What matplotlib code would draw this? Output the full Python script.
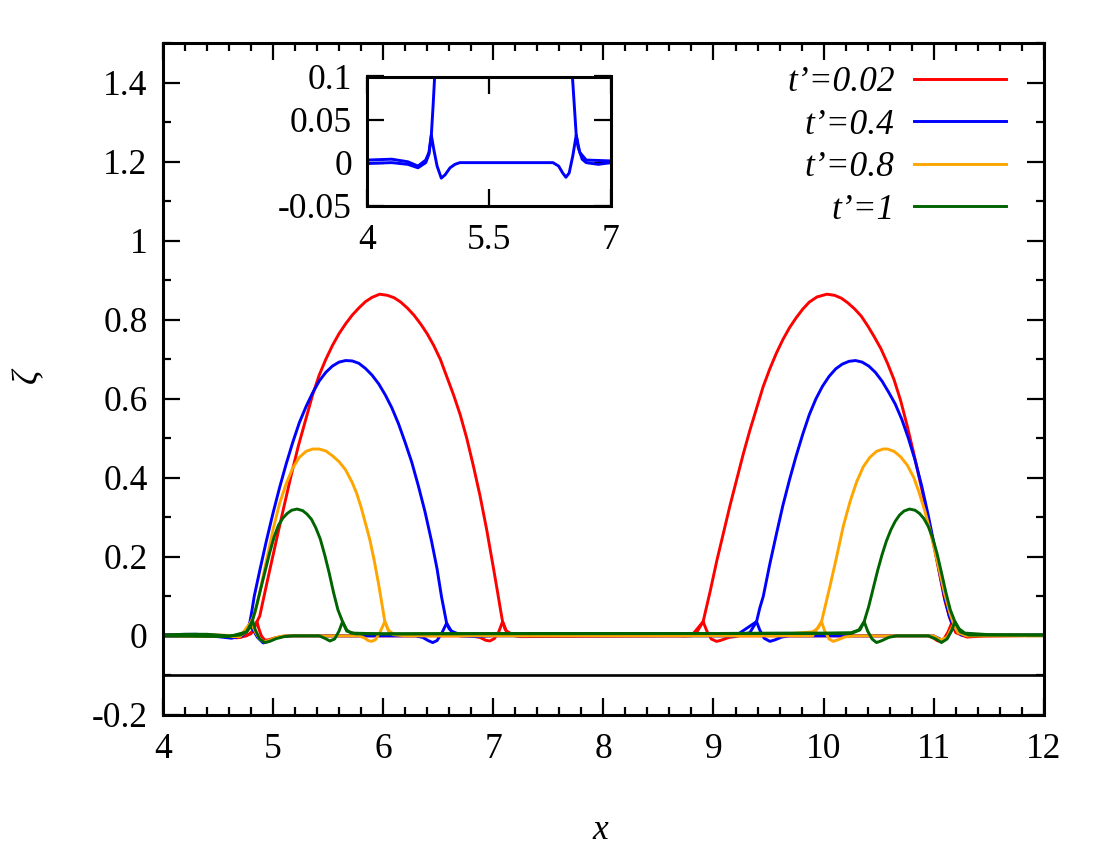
import matplotlib
matplotlib.use('Agg')
import matplotlib.pyplot as plt

plt.rcParams['font.family'] = ['Liberation Serif', 'DejaVu Serif']

# "a" curves carry the humps, "b" curves the baseline ripples under the humps
red_x = [4.0, 4.3, 4.55, 4.67, 4.76, 4.82, 4.855, 4.88, 4.95, 5.02, 5.09, 5.16, 5.23, 5.30, 5.36, 5.42,
         5.48, 5.54, 5.60, 5.66, 5.72, 5.78, 5.84, 5.90, 5.97, 6.04, 6.10, 6.16, 6.22, 6.28, 6.34, 6.40,
         6.46, 6.52, 6.58, 6.64, 6.70, 6.76, 6.82, 6.88, 6.94, 7.0, 7.04, 7.07, 7.085, 7.12, 7.2, 7.5,
         8.0, 8.5, 8.75, 8.85, 8.906, 8.93, 8.97, 9.03, 9.09, 9.15, 9.21, 9.27, 9.33, 9.39, 9.45, 9.51,
         9.57, 9.63, 9.69, 9.75, 9.81, 9.87, 9.94, 10.03, 10.10, 10.16, 10.22, 10.28, 10.34, 10.40,
         10.46, 10.52, 10.58, 10.64, 10.70, 10.76, 10.82, 10.88, 10.94, 11.0, 11.05, 11.10, 11.14,
         11.162, 11.2, 11.267, 11.5, 12.0]
red_y = [0.002, 0.003, 0.0, -0.005, 0.0, 0.012, 0.036, 0.05, 0.14, 0.228, 0.315, 0.40, 0.48, 0.55, 0.61,
         0.66, 0.70, 0.735, 0.765, 0.79, 0.812, 0.83, 0.846, 0.857, 0.865, 0.862, 0.856, 0.845, 0.83,
         0.812, 0.79, 0.765, 0.735, 0.70, 0.655, 0.61, 0.56, 0.50, 0.43, 0.355, 0.27, 0.175, 0.11, 0.06,
         0.036, 0.012, 0.0, 0.002, 0.003, 0.002, 0.0, 0.01, 0.036, 0.065, 0.113, 0.19, 0.26, 0.33, 0.395,
         0.46, 0.52, 0.575, 0.63, 0.675, 0.715, 0.75, 0.78, 0.805, 0.827, 0.845, 0.858, 0.865, 0.862,
         0.855, 0.843, 0.828, 0.81, 0.785, 0.757, 0.727, 0.69, 0.648, 0.595, 0.53, 0.46, 0.385, 0.31,
         0.23, 0.16, 0.09, 0.05, 0.032, 0.012, 0.002, 0.0, 0.001]
red_bx = [4.0, 4.5, 4.7, 4.8, 4.855, 4.87, 4.895, 4.926, 4.96, 5.02, 5.1, 5.18, 6.8, 6.88, 6.93, 6.969,
          7.01, 7.05, 7.085, 7.11, 7.16, 7.25, 8.8, 8.906, 8.94, 8.98, 9.028, 9.07, 9.14, 9.24, 10.95,
          11.0, 11.03, 11.056, 11.09, 11.13, 11.162, 11.2, 11.3, 11.5, 12.0]
red_by = [0.0, 0.0, -0.004, 0.005, 0.036, 0.02, 0.0, -0.011, -0.01, -0.005, -0.001, 0.0, 0.0, -0.004,
          -0.011, -0.013, -0.007, 0.01, 0.036, 0.015, 0.002, -0.002, 0.0, 0.036, 0.012, -0.008, -0.014,
          -0.011, -0.004, 0.0, 0.0, -0.006, -0.012, -0.014, -0.009, 0.01, 0.032, 0.008, -0.003, 0.0,
          0.001]

blue_x = [4.0, 4.3, 4.5, 4.624, 4.72, 4.76, 4.789, 4.81, 4.83, 4.88, 4.94, 5.0, 5.06, 5.12, 5.18, 5.24,
          5.30, 5.36, 5.42, 5.48, 5.54, 5.60, 5.66, 5.72, 5.78, 5.84, 5.90, 5.96, 6.02, 6.08, 6.14, 6.20,
          6.26, 6.32, 6.38, 6.44, 6.49, 6.53, 6.577, 6.62, 6.7, 7.0, 8.0, 9.2, 9.33, 9.391, 9.42, 9.452,
          9.51, 9.573, 9.63, 9.69, 9.75, 9.81, 9.87, 9.93, 9.99, 10.05, 10.11, 10.17, 10.23, 10.29,
          10.35, 10.41, 10.47, 10.53, 10.59, 10.65, 10.71, 10.77, 10.83, 10.89, 10.95, 11.01, 11.06,
          11.1, 11.14, 11.177, 11.22, 11.267, 11.6, 12.0]
blue_y = [0.003, 0.004, 0.001, -0.004, 0.003, 0.012, 0.032, 0.065, 0.1, 0.165, 0.24, 0.31, 0.375, 0.435,
          0.49, 0.54, 0.58, 0.615, 0.645, 0.667, 0.683, 0.693, 0.697, 0.696, 0.69, 0.677, 0.66, 0.638,
          0.61, 0.577, 0.537, 0.49, 0.44, 0.38, 0.315, 0.24, 0.17, 0.1, 0.032, 0.012, 0.003, 0.002,
          0.002, 0.0, 0.008, 0.036, 0.07, 0.1, 0.18, 0.26, 0.33, 0.395, 0.455, 0.51, 0.56, 0.6, 0.632,
          0.657, 0.676, 0.688, 0.695, 0.697, 0.693, 0.683, 0.667, 0.645, 0.617, 0.587, 0.548, 0.5,
          0.445, 0.38, 0.305, 0.222, 0.15, 0.095, 0.05, 0.024, 0.01, 0.004, 0.002, 0.003]
blue_bx = [4.0, 4.3, 4.5, 4.624, 4.72, 4.76, 4.789, 4.82, 4.86, 4.912, 4.96, 5.02, 5.08, 5.14, 6.29,
           6.36, 6.41, 6.45, 6.49, 6.535, 6.577, 6.6, 6.65, 6.7, 6.85, 7.0, 9.2, 9.391, 9.42, 9.46,
           9.512, 9.56, 9.62, 9.69, 11.0, 11.05, 11.08, 11.12, 11.15, 11.177, 11.25, 12.0]
blue_by = [-0.001, 0.0, -0.002, -0.006, 0.0, 0.01, 0.032, 0.015, -0.004, -0.018, -0.014, -0.006, -0.002,
           0.0, 0.0, -0.004, -0.012, -0.017, -0.012, 0.008, 0.032, 0.018, 0.004, 0.0, -0.002, 0.0, 0.0,
           0.036, 0.015, -0.006, -0.014, -0.01, -0.003, 0.0, 0.0, -0.007, -0.012, -0.007, 0.008, 0.024,
           0.002, 0.001]

orange_x = [4.0, 4.5, 4.7, 4.76, 4.8, 4.84, 4.88, 4.94, 5.0, 5.06, 5.12, 5.18, 5.24, 5.30, 5.36, 5.42,
            5.48, 5.54, 5.60, 5.66, 5.72, 5.76, 5.80, 5.84, 5.88, 5.92, 5.96, 5.99, 6.016, 6.05, 6.09,
            6.5, 7.0, 8.0, 9.0, 9.6, 9.9, 9.95, 9.981, 10.01, 10.057, 10.11, 10.178, 10.24, 10.30,
            10.36, 10.42, 10.48, 10.54, 10.58, 10.64, 10.70, 10.76, 10.82, 10.87, 10.92, 10.965, 11.01,
            11.056, 11.1, 11.147, 11.18, 11.207, 11.27, 11.6, 12.0]
orange_y = [0.002, 0.002, 0.0, 0.01, 0.035, 0.06, 0.11, 0.19, 0.268, 0.335, 0.385, 0.425, 0.452, 0.467,
            0.473, 0.473, 0.468, 0.456, 0.441, 0.42, 0.388, 0.361, 0.326, 0.285, 0.243, 0.19, 0.13, 0.08,
            0.036, 0.012, 0.003, 0.002, 0.002, 0.003, 0.003, 0.004, 0.01, 0.02, 0.036, 0.07, 0.125, 0.19,
            0.277, 0.34, 0.39, 0.428, 0.452, 0.467, 0.473, 0.473, 0.467, 0.453, 0.432, 0.4, 0.36, 0.315,
            0.268, 0.215, 0.159, 0.105, 0.057, 0.03, 0.015, 0.004, 0.002, 0.002]
orange_bx = [4.0, 4.7, 4.8, 4.84, 4.88, 4.92, 4.97, 5.03, 5.1, 5.78, 5.83, 5.865, 5.895, 5.93, 5.97,
             6.016, 6.05, 6.1, 6.2, 9.9, 9.981, 10.01, 10.05, 10.087, 10.13, 10.19, 10.27, 11.0, 11.06,
             11.12, 11.18, 11.22, 11.3, 12.0]
orange_by = [0.0, -0.002, 0.035, 0.01, -0.008, -0.015, -0.011, -0.004, 0.0, 0.0, -0.005, -0.012, -0.014,
             -0.01, 0.008, 0.036, 0.014, 0.003, 0.0, 0.0, 0.036, 0.012, -0.008, -0.014, -0.01, -0.003,
             0.0, 0.0, -0.01, -0.004, 0.03, 0.008, 0.0, 0.0]

green_x = [4.0, 4.2, 4.4, 4.6, 4.7, 4.76, 4.79, 4.815, 4.85, 4.89, 4.93, 4.97, 5.01, 5.05, 5.09, 5.13,
           5.17, 5.22, 5.27, 5.31, 5.35, 5.39, 5.43, 5.47, 5.51, 5.55, 5.59, 5.632, 5.67, 5.71, 6.0, 7.0,
           8.0, 9.0, 9.6, 10.0, 10.25, 10.32, 10.368, 10.41, 10.45, 10.49, 10.53, 10.57, 10.61, 10.65,
           10.69, 10.73, 10.78, 10.83, 10.87, 10.91, 10.95, 10.99, 11.03, 11.07, 11.11, 11.15, 11.192,
           11.23, 11.282, 11.5, 12.0]
green_y = [0.002, 0.004, 0.004, 0.0, 0.002, 0.01, 0.02, 0.039, 0.075, 0.12, 0.165, 0.21, 0.25, 0.28,
           0.298, 0.31, 0.318, 0.321, 0.317, 0.308, 0.295, 0.273, 0.245, 0.205, 0.16, 0.11, 0.066, 0.036,
           0.015, 0.007, 0.005, 0.006, 0.006, 0.006, 0.007, 0.007, 0.008, 0.015, 0.036, 0.075, 0.12,
           0.165, 0.205, 0.24, 0.268, 0.29, 0.306, 0.316, 0.321, 0.318, 0.31, 0.297, 0.277, 0.248, 0.208,
           0.16, 0.11, 0.066, 0.036, 0.018, 0.007, 0.003, 0.002]
green_bx = [4.0, 4.6, 4.76, 4.815, 4.84, 4.88, 4.926, 4.97, 5.03, 5.1, 5.18, 5.42, 5.47, 5.517, 5.56,
            5.6, 5.632, 5.67, 5.75, 10.25, 10.33, 10.368, 10.4, 10.44, 10.48, 10.53, 10.59, 10.66, 10.95,
            11.02, 11.07, 11.12, 11.16, 11.192, 11.24, 11.32, 12.0]
green_by = [0.0, -0.002, 0.01, 0.039, 0.015, -0.008, -0.017, -0.014, -0.007, -0.002, 0.0, 0.0, -0.006,
            -0.013, -0.008, 0.012, 0.036, 0.012, 0.005, 0.006, 0.015, 0.036, 0.012, -0.008, -0.017,
            -0.012, -0.004, 0.0, 0.0, -0.008, -0.017, -0.008, 0.012, 0.036, 0.01, 0.002, 0.002]

labels = ["t\u2019=0.02", "t\u2019=0.4", "t\u2019=0.8", "t\u2019=1"]
colors = ['#ff0000', '#0000ff', '#ffa500', '#006400']

series = [(red_x, red_y, red_bx, red_by), (blue_x, blue_y, blue_bx, blue_by),
          (orange_x, orange_y, orange_bx, orange_by), (green_x, green_y, green_bx, green_by)]

fig = plt.figure(figsize=(11, 8.5), dpi=100)
ax = fig.add_axes([0.148, 0.159, 0.801, 0.790])

fs = 25.5
lw = 2.1
for (xa, ya, xb, yb), c, lab in zip(series, colors, labels):
    ax.plot(xb, yb, color=c, lw=lw, solid_joinstyle='round')
    ax.plot(xa, ya, color=c, lw=lw, label=lab, solid_joinstyle='round')

ax.axhline(-0.1, color='black', lw=1.9)

ax.set_xlim(4, 12)
ax.set_ylim(-0.2, 1.5)
ax.set_xticks([4, 5, 6, 7, 8, 9, 10, 11, 12])
ax.set_yticks([-0.2, 0, 0.2, 0.4, 0.6, 0.8, 1, 1.2, 1.4])
ax.set_yticklabels(['-0.2', '0', '0.2', '0.4', '0.6', '0.8', '1', '1.2', '1.4'])
ax.set_xticks([4 + 0.2 * i for i in range(41)], minor=True)
ax.set_yticks([-0.2 + 0.1 * i for i in range(18)], minor=True)
ax.tick_params(which='both', direction='in', top=True, right=True, width=1.6, labelsize=fs)
ax.tick_params(which='major', length=12)
ax.tick_params(which='minor', length=6)
ax.tick_params(axis='x', which='major', pad=13)
ax.tick_params(axis='y', which='major', pad=11)
for s in ax.spines.values():
    s.set_linewidth(2.2)

ax.set_xlabel('x', fontsize=fs, style='italic')
ax.set_ylabel('\u03b6', fontsize=fs, style='italic')
ax.xaxis.set_label_coords(0.496, -0.148)
ax.yaxis.set_label_coords(-0.133, 0.505)

leg = ax.legend(loc='upper right', bbox_to_anchor=(0.957, 0.966), frameon=False, markerfirst=False,
                fontsize=fs, handlelength=2.6, handletextpad=0.54, labelspacing=0.27,
                borderaxespad=0, borderpad=0)
for t in leg.get_texts():
    t.set_fontstyle('italic')

# inset: zoom on the baseline of t'=0.4
ins = fig.add_axes([0.334, 0.758, 0.221, 0.152])
ins.plot(blue_bx, blue_by, color=colors[1], lw=lw, solid_joinstyle='round')
ins.plot(blue_x, blue_y, color=colors[1], lw=lw, solid_joinstyle='round')
ins.set_xlim(4, 7)
ins.set_ylim(-0.05, 0.1)
ins.set_xticks([4, 5.5, 7])
ins.set_xticklabels(['4', '5.5', '7'])
ins.set_yticks([-0.05, 0, 0.05, 0.1])
ins.set_yticklabels(['-0.05', '0', '0.05', '0.1'])
ins.tick_params(direction='in', top=True, right=True, width=1.6, length=12, labelsize=fs)
ins.tick_params(axis='x', pad=13)
ins.tick_params(axis='y', pad=11)
for s in ins.spines.values():
    s.set_linewidth(2.2)

fig.savefig('out.png', dpi=100)
